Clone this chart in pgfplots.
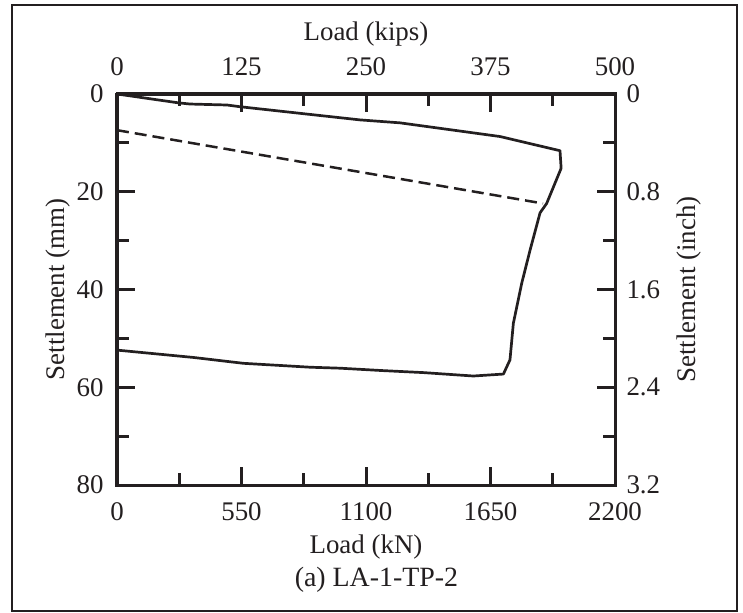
\documentclass[border=0pt]{standalone}
\usepackage{fontspec}
\setmainfont{Liberation Serif}
\usepackage{pgfplots}
\pgfplotsset{compat=1.18}
\definecolor{ink}{HTML}{231F20}
\begin{document}
\begin{tikzpicture}[x=1bp,y=1bp]
\path[use as bounding box] (-117,-128) rectangle (626,485);
\draw[line width=2bp, color=ink] (-105.3,-126) rectangle (619.7,480);
\pgfplotsset{
 common/.style={
  width=498bp, height=391bp, scale only axis,
  at={(0,0)}, anchor=south west,
  y dir=reverse,
  axis line style={line width=3bp, color=ink, line cap=rect},
  major tick length=18bp, minor tick length=12bp,
  every tick/.append style={line width=3bp, color=ink},
  tick align=inside,
  tick label style={font=\fontsize{27}{31}\selectfont, color=ink},
  label style={font=\fontsize{27}{31}\selectfont, color=ink},
  /pgf/number format/assume math mode=true,
  /pgf/number format/1000 sep={},
  scaled ticks=false,
 }
}
\begin{axis}[common,
  xmin=0, xmax=2200, ymin=0, ymax=80,
  xtick={0,550,1100,1650,2200}, minor xtick={275,825,1375,1925},
  ytick={0,20,40,60,80}, minor ytick={10,30,50,70},
  xtick pos=left, ytick pos=left,
  xticklabel style={yshift=-14bp},
  yticklabel style={xshift=-10bp},
  xlabel={Load (kN)}, ylabel={Settlement (mm)},
  xlabel style={at={(axis description cs:0.5,0)}, anchor=center, yshift=-62bp},
  ylabel style={at={(axis description cs:0,0.5)}, anchor=center, yshift=59bp},
]
\addplot[ink, line width=2.7bp, line join=round] coordinates {
(0,0) (270,1.8) (322,2.05) (486,2.25) (543,2.6) (808,3.95) (1074,5.3) (1250,5.9)
(1692,8.7) (1957,11.6) (1962,15.2) (1898,22.4) (1869,24.3) (1825,31.9) (1788,38.7)
(1751,46.9) (1736,54.4) (1707,57.3) (1574,57.7) (1353,57.0) (1177,56.6) (985,56.1)
(853,55.9) (558,55.1) (337,53.9) (0,52.4)
};
\addplot[ink, line width=2.5bp, dash pattern=on 12bp off 6bp] coordinates {
(0,7.4) (1882,22.4)
};
\end{axis}
\begin{axis}[common,
  xmin=0, xmax=500, ymin=0, ymax=3.2,
  xtick={0,125,250,375,500}, minor xtick={62.5,187.5,312.5,437.5},
  ytick={0,0.8,1.6,2.4,3.2}, minor ytick={0.4,1.2,2.0,2.8},
  xtick pos=right, ytick pos=right,
  xticklabel pos=right, yticklabel pos=right,
  yticklabel style={/pgf/number format/fixed, /pgf/number format/precision=1},
  xticklabel style={yshift=15bp},
  yticklabel style={xshift=8bp},
  xlabel={Load (kips)}, ylabel={Settlement (inch)},
  xlabel style={at={(axis description cs:0.5,1)}, anchor=center, yshift=60bp},
  ylabel style={at={(axis description cs:1,0.5)}, anchor=center, yshift=-74bp},
]
\end{axis}
\node[font=\fontsize{28}{32}\selectfont, color=ink] at (259.5,-95) {(a) LA-1-TP-2};
\end{tikzpicture}
\end{document}
